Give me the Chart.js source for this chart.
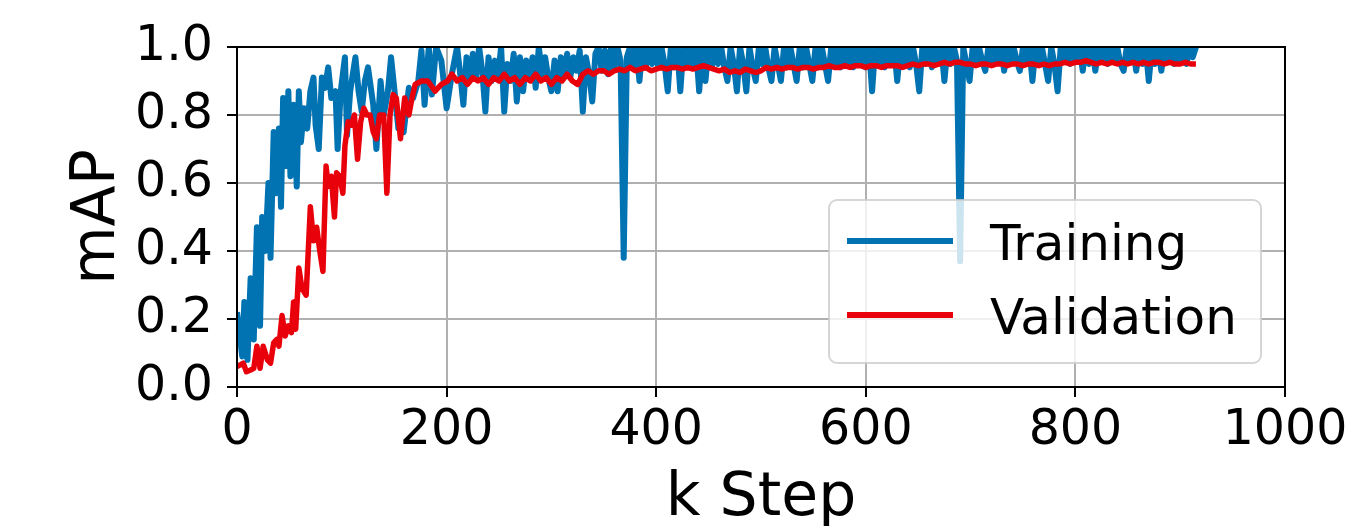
<!DOCTYPE html>
<html>
<head>
<meta charset="utf-8">
<script src="https://cdn.jsdelivr.net/npm/chart.js@4"></script>
<style>
  body { margin: 0; background: #fff; }
  canvas { display: block; }
</style>
</head>
<body>
<canvas id="map" width="1348" height="526"></canvas>
<script>
// training mAP (k step -> mAP)
const trainSteps = [
  0, 5, 7, 10, 13, 16, 19, 22, 24, 27,
  30, 32, 35, 37, 40, 42, 44, 47, 49, 51,
  54, 57, 59, 61, 64, 67, 70, 73, 75, 78,
  81, 84, 87, 90, 94, 96, 99, 103, 105, 108,
  113, 116, 119, 122, 125, 130, 133, 137, 140, 144,
  147, 151, 154, 159, 164, 168, 173, 176, 179, 183,
  186, 190, 195, 200, 205,
  210, 213, 216, 219, 222, 225, 228, 231, 234, 237,
  240, 243, 246, 249, 252, 255, 258, 261, 264, 267,
  270, 273, 276, 279, 282, 285, 288, 291, 294, 297,
  300, 303, 306, 309, 312, 315, 318, 321, 324, 327,
  330, 333, 336, 339, 342, 345, 348, 351, 354, 357,
  360, 363, 366, 369, 372, 375, 378, 381, 384, 387,
  390, 393, 396, 399, 402, 405, 408, 411, 414, 417,
  420, 423, 426, 429, 432, 435, 438, 441, 444, 447,
  450, 453, 456, 459, 462, 465, 468, 471, 474, 477,
  480, 483, 486, 489, 492, 495, 498, 501, 504, 507,
  510, 513, 516, 519, 522, 525, 528, 531, 534, 537,
  540, 543, 546, 549, 552, 555, 558, 561, 564, 567,
  570, 573, 576, 579, 582, 585, 588, 591, 594, 597,
  600, 603, 606, 609, 612, 615, 618, 621, 624, 627,
  630, 633, 636, 639, 642, 645, 648, 651, 654, 657,
  660, 663, 666, 669, 672, 675, 678, 681, 684, 687,
  690, 693, 696, 699, 702, 705, 708, 711, 714, 717,
  720, 723, 726, 729, 732, 735, 738, 741, 744, 747,
  750, 753, 756, 759, 762, 765, 768, 771, 774, 777,
  780, 783, 786, 789, 792, 795, 798, 801, 804, 807,
  810, 813, 816, 819, 822, 825, 828, 831, 834, 837,
  840, 843, 846, 849, 852, 855, 858, 861, 864, 867,
  870, 873, 876, 879, 882, 885, 888, 891, 894, 897,
  900, 903, 906, 909, 912, 915
];
const trainMap = [
  0.22, 0.09, 0.25, 0.08, 0.32, 0.14, 0.47, 0.18, 0.50, 0.40,
  0.60, 0.38, 0.75, 0.57, 0.76, 0.53, 0.85, 0.65, 0.87, 0.62,
  0.83, 0.59, 0.87, 0.72, 0.82, 0.76, 0.87, 0.91, 0.77, 0.70,
  0.91, 0.88, 0.94, 0.85, 0.87, 0.70, 0.87, 0.97, 0.74, 0.87,
  0.97, 0.87, 0.81, 0.90, 0.94, 0.83, 0.70, 0.90, 0.80, 0.87,
  0.97, 0.85, 0.76, 0.75, 0.88, 0.85, 0.90, 0.99, 0.83, 1.00,
  0.86, 1.00, 0.96, 0.82, 0.92,
  1.00, 0.92, 0.83, 0.97, 0.90, 0.98, 0.91, 1.00, 0.93, 0.81,
  0.97, 0.90, 0.96, 0.91, 1.00, 0.81, 0.95, 0.90, 0.98, 0.84,
  0.97, 0.87, 0.96, 0.91, 0.97, 0.88, 1.00, 0.92, 0.97, 0.91,
  0.87, 0.96, 0.87, 0.97, 0.92, 0.98, 0.91, 0.97, 0.93, 0.99,
  0.81, 0.97, 0.92, 0.84, 0.98, 1.00, 0.93, 0.99, 0.92, 1.00,
  0.94, 1.00, 0.96, 0.38, 0.97, 1.00, 0.94, 1.00, 0.90, 1.00,
  0.94, 1.00, 0.95, 1.00, 0.94, 1.00, 0.95, 0.87, 1.00, 0.94,
  1.00, 0.87, 1.00, 0.95, 1.00, 0.94, 1.00, 0.87, 1.00, 0.90,
  1.00, 0.94, 1.00, 0.95, 1.00, 0.94, 0.90, 1.00, 0.95, 0.87,
  1.00, 0.95, 0.87, 1.00, 0.94, 0.90, 1.00, 0.95, 1.00, 0.94,
  0.90, 1.00, 0.95, 0.90, 1.00, 0.94, 1.00, 0.95, 0.90, 1.00,
  0.94, 1.00, 0.95, 0.90, 1.00, 0.94, 1.00, 0.95, 0.90, 1.00,
  0.95, 1.00, 0.94, 1.00, 0.95, 1.00, 0.94, 1.00, 0.95, 1.00,
  0.94, 1.00, 0.87, 1.00, 0.95, 1.00, 0.94, 1.00, 0.95, 1.00,
  0.90, 1.00, 0.95, 1.00, 0.94, 1.00, 0.95, 0.87, 1.00, 0.95,
  1.00, 0.94, 1.00, 0.95, 1.00, 0.90, 1.00, 0.95, 1.00, 0.96,
  0.37, 1.00, 0.95, 0.90, 1.00, 0.95, 1.00, 0.96, 0.93, 1.00,
  0.95, 1.00, 0.96, 1.00, 0.93, 1.00, 0.95, 1.00, 0.96, 0.93,
  1.00, 0.95, 1.00, 0.90, 1.00, 0.96, 1.00, 0.95, 0.90, 1.00,
  0.95, 0.87, 1.00, 0.96, 1.00, 0.95, 1.00, 0.96, 1.00, 0.93,
  1.00, 0.95, 1.00, 0.93, 1.00, 0.96, 1.00, 0.95, 1.00, 0.96,
  1.00, 0.95, 0.93, 1.00, 0.96, 1.00, 0.93, 1.00, 0.95, 1.00,
  0.90, 1.00, 0.95, 1.00, 0.93, 1.00, 0.96, 1.00, 0.95, 1.00,
  0.96, 1.00, 0.95, 1.00, 0.97, 1.00
];

// validation mAP
const valSteps = [
  0, 6, 9, 13, 16, 19, 22, 25, 29, 32,
  35, 38, 40, 43, 46, 49, 52, 54, 56, 59,
  62, 66, 70, 73, 76, 79, 82, 85, 87, 90,
  93, 95, 98, 101, 103, 106, 109, 112, 115, 118,
  121, 124, 127, 130, 133, 136, 140, 143, 146, 149,
  152, 156, 160, 164, 167, 170, 176, 182, 189, 195,
  201, 205,
  210, 215, 220, 225, 230, 235, 240, 245, 250, 255,
  260, 265, 270, 275, 280, 285, 290, 295, 300, 305,
  310, 315, 320, 325, 330, 335, 340, 345, 350, 355,
  360, 365, 370, 375, 380, 385, 390, 395, 400, 405,
  410, 415, 420, 425, 430, 435, 440, 445, 450, 455,
  460, 465, 470, 475, 480, 485, 490, 495, 500, 505,
  510, 515, 520, 525, 530, 535, 540, 545, 550, 555,
  560, 565, 570, 575, 580, 585, 590, 595, 600, 605,
  610, 615, 620, 625, 630, 635, 640, 645, 650, 655,
  660, 665, 670, 675, 680, 685, 690, 695, 700, 705,
  710, 715, 720, 725, 730, 735, 740, 745, 750, 755,
  760, 765, 770, 775, 780, 785, 790, 795, 800, 805,
  810, 815, 820, 825, 830, 835, 840, 845, 850, 855,
  860, 865, 870, 875, 880, 885, 890, 895, 900, 905,
  910, 915
];
const valMap = [
  0.06, 0.07, 0.045, 0.05, 0.055, 0.12, 0.055, 0.12, 0.08, 0.07,
  0.13, 0.14, 0.12, 0.21, 0.15, 0.18, 0.16, 0.25, 0.17, 0.35,
  0.29, 0.27, 0.53, 0.43, 0.47, 0.40, 0.34, 0.65, 0.59, 0.62,
  0.50, 0.63, 0.62, 0.57, 0.71, 0.78, 0.77, 0.80, 0.67, 0.78,
  0.82, 0.80, 0.80, 0.75, 0.73, 0.80, 0.80, 0.57, 0.80, 0.86,
  0.85, 0.73, 0.85, 0.80, 0.85, 0.89, 0.90, 0.90, 0.87, 0.89,
  0.90, 0.92,
  0.90, 0.91, 0.89, 0.91, 0.90, 0.91, 0.89, 0.91, 0.90, 0.92,
  0.90, 0.91, 0.89, 0.91, 0.90, 0.92, 0.90, 0.91, 0.89, 0.91,
  0.90, 0.92, 0.90, 0.89, 0.92, 0.93, 0.92, 0.93, 0.93, 0.92,
  0.93, 0.935, 0.93, 0.94, 0.93, 0.935, 0.94, 0.93, 0.935, 0.94,
  0.935, 0.94, 0.94, 0.935, 0.94, 0.935, 0.94, 0.945, 0.94, 0.935,
  0.93, 0.935, 0.925, 0.93, 0.925, 0.935, 0.93, 0.925, 0.93, 0.94,
  0.935, 0.94, 0.935, 0.94, 0.94, 0.935, 0.94, 0.94, 0.935, 0.94,
  0.94, 0.945, 0.94, 0.94, 0.945, 0.94, 0.945, 0.945, 0.94, 0.945,
  0.945, 0.94, 0.945, 0.945, 0.945, 0.94, 0.945, 0.95, 0.945, 0.95,
  0.95, 0.945, 0.95, 0.955, 0.95, 0.955, 0.955, 0.95, 0.95, 0.945,
  0.95, 0.95, 0.945, 0.95, 0.95, 0.945, 0.95, 0.95, 0.945, 0.95,
  0.95, 0.945, 0.95, 0.945, 0.95, 0.95, 0.955, 0.95, 0.955, 0.955,
  0.96, 0.955, 0.95, 0.955, 0.95, 0.955, 0.95, 0.955, 0.95, 0.955,
  0.95, 0.955, 0.95, 0.955, 0.955, 0.95, 0.955, 0.95, 0.95, 0.955,
  0.95, 0.95
];

const xTicks = [0, 200, 400, 600, 800, 1000];
const yTicks = [0.0, 0.2, 0.4, 0.6, 0.8, 1.0];

const FONT = 'DejaVu Sans';
const BLUE = '#0173b2';
const RED = '#e8000b';

function points(xs, ys) {
  return xs.map((x, i) => ({ x: x, y: ys[i] }));
}

// matplotlib style frame + legend drawn over the lines
const frameLegend = {
  id: 'frameLegend',
  afterDatasetsDraw(chart) {
    const { ctx, chartArea: a } = chart;
    ctx.save();
    ctx.strokeStyle = '#000';
    ctx.lineWidth = 2;
    ctx.strokeRect(a.left, a.top, a.right - a.left, a.bottom - a.top);

    const w = 432, h = 163;
    const bx = a.right - 24 - w, by = a.bottom - 24 - h;
    ctx.beginPath();
    ctx.roundRect(bx, by, w, h, 8);
    ctx.fillStyle = 'rgba(255,255,255,0.8)';
    ctx.fill();
    ctx.strokeStyle = 'rgba(204,204,204,0.8)';
    ctx.lineWidth = 2;
    ctx.stroke();

    const rows = [chart.data.datasets[1], chart.data.datasets[0]];
    ctx.font = '50px "' + FONT + '"';
    ctx.textBaseline = 'alphabetic';
    ctx.textAlign = 'left';
    rows.forEach((ds, i) => {
      const ly = by + 41 + i * 74;
      ctx.beginPath();
      ctx.moveTo(bx + 18, ly);
      ctx.lineTo(bx + 124, ly);
      ctx.strokeStyle = ds.borderColor;
      ctx.lineWidth = 6;
      ctx.stroke();
      ctx.fillStyle = '#000';
      ctx.fillText(ds.label, bx + 161, ly + 19);
    });
    ctx.restore();
  }
};

new Chart(document.getElementById('map').getContext('2d'), {
  type: 'line',
  data: {
    datasets: [
      {
        label: 'Validation',
        data: points(valSteps, valMap),
        borderColor: RED,
        borderWidth: 5.5,
        pointRadius: 0,
        tension: 0,
        borderJoinStyle: 'round',
        clip: 0,
        order: 0
      },
      {
        label: 'Training',
        data: points(trainSteps, trainMap),
        borderColor: BLUE,
        borderWidth: 6,
        pointRadius: 0,
        tension: 0,
        borderJoinStyle: 'round',
        clip: 0,
        order: 1
      }
    ]
  },
  options: {
    responsive: false,
    animation: false,
    devicePixelRatio: 1,
    layout: { padding: { top: 47, right: 63, left: 0, bottom: 0 } },
    plugins: { legend: { display: false }, tooltip: { enabled: false } },
    scales: {
      x: {
        type: 'linear',
        min: 0,
        max: 1000,
        afterBuildTicks: (s) => { s.ticks = xTicks.map(v => ({ value: v })); },
        afterFit: (s) => { s.height = 139; s.paddingRight = 0; s.paddingLeft = 0; },
        ticks: {
          color: '#000',
          padding: 5,
          maxRotation: 0,
          font: { family: FONT, size: 49, lineHeight: 1.2 },
          callback: (v) => String(v)
        },
        grid: { color: '#b0b0b0', lineWidth: 2, tickColor: '#000', tickWidth: 2, tickLength: 10 },
        border: { color: '#000', width: 2 },
        title: {
          display: true,
          text: 'k Step',
          color: '#000',
          padding: { top: 0, bottom: 0 },
          font: { family: FONT, size: 60, lineHeight: 0.9 }
        }
      },
      y: {
        min: 0,
        max: 1,
        afterBuildTicks: (s) => { s.ticks = yTicks.map(v => ({ value: v })); },
        afterFit: (s) => { s.width = 237; s.paddingTop = 0; s.paddingBottom = 0; },
        ticks: {
          color: '#000',
          padding: 14,
          font: { family: FONT, size: 49, lineHeight: 1.2 },
          callback: (v) => v.toFixed(1)
        },
        grid: { color: '#b0b0b0', lineWidth: 2, tickColor: '#000', tickWidth: 2, tickLength: 10 },
        border: { color: '#000', width: 2 },
        title: {
          display: true,
          text: 'mAP',
          color: '#000',
          padding: { top: 68, bottom: 0 },
          font: { family: FONT, size: 60, lineHeight: 1 }
        }
      }
    }
  },
  plugins: [frameLegend]
});
</script>
</body>
</html>
